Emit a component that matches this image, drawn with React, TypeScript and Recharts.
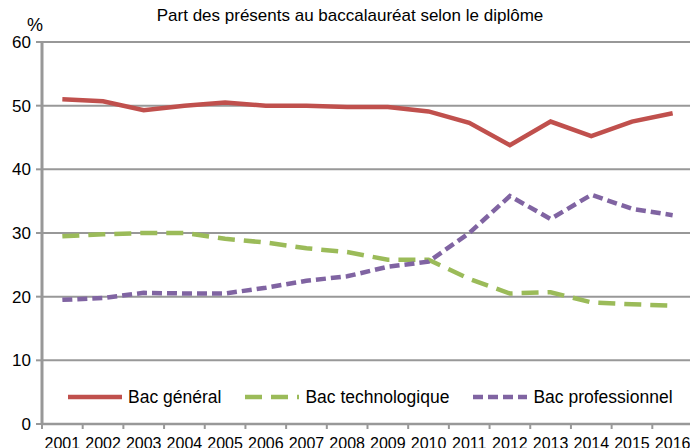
import { LineChart, Line, XAxis, YAxis, CartesianGrid } from "recharts"

const YEARS = ["2001", "2002", "2003", "2004", "2005", "2006", "2007", "2008", "2009", "2010", "2011", "2012", "2013", "2014", "2015", "2016"]
const BAC_GENERAL = [51.0, 50.7, 49.3, 50.0, 50.5, 50.0, 50.0, 49.8, 49.8, 49.1, 47.3, 43.8, 47.5, 45.2, 47.5, 48.8]
const BAC_TECHNO = [29.5, 29.8, 30.0, 30.0, 29.1, 28.5, 27.6, 27.0, 25.8, 25.8, 22.8, 20.5, 20.7, 19.1, 18.8, 18.6]
const BAC_PRO = [19.5, 19.8, 20.6, 20.5, 20.5, 21.4, 22.5, 23.2, 24.7, 25.5, 30.0, 35.8, 32.2, 36.0, 33.8, 32.8]
const Y_TICKS = [0, 10, 20, 30, 40, 50, 60]

const SERIES = [
  { key: "general", name: "Bac général", color: "#C0504D", dash: undefined as string | undefined },
  { key: "techno", name: "Bac technologique", color: "#9BBB59", dash: "17 9" },
  { key: "pro", name: "Bac professionnel", color: "#8064A2", dash: "10 5" },
]

const data = YEARS.map((year, i) => ({
  year,
  general: BAC_GENERAL[i],
  techno: BAC_TECHNO[i],
  pro: BAC_PRO[i],
}))

const CHART_W = 700
const CHART_H = 452
const MARGIN = { top: 42, right: 7, left: 0, bottom: 0 }
const Y_AXIS_W = 42
const BAND = (CHART_W - MARGIN.left - MARGIN.right - Y_AXIS_W) / YEARS.length
const GRID = "#989898"
const FONT = "'Liberation Sans', Arial, sans-serif"

// Excel-style x ticks: tick marks sit between categories
function XTick({ x, y, payload }: { x?: number; y?: number; payload?: { value: string } }) {
  if (x == null || y == null || !payload) return null
  const axisY = y - 14
  return (
    <g>
      <line x1={x - BAND / 2} x2={x - BAND / 2} y1={axisY} y2={axisY + 5} stroke={GRID} strokeWidth={2} />
      <text x={x} y={y} dy="0.71em" textAnchor="middle" fontSize={16} fill="#000" fontFamily={FONT}>
        {payload.value}
      </text>
    </g>
  )
}

export default function App() {
  return (
    <div style={{ position: "absolute", left: 0, top: 0, width: 690, height: 448, overflow: "hidden", background: "#fff", fontFamily: FONT }}>
      <div style={{ position: "absolute", top: 6, left: 0, width: CHART_W, textAlign: "center", fontSize: 17, color: "#000" }}>
        Part des présents au baccalauréat selon le diplôme
      </div>
      <div style={{ position: "absolute", top: 15, left: 27, fontSize: 18, color: "#000" }}>%</div>

      <LineChart width={CHART_W} height={CHART_H} data={data} margin={MARGIN}>
        <CartesianGrid vertical={false} stroke={GRID} strokeWidth={2} />
        <XAxis
          dataKey="year"
          scale="band"
          height={28}
          tickSize={5}
          tickMargin={9}
          tickLine={false}
          axisLine={{ stroke: GRID, strokeWidth: 2.5 }}
          tick={<XTick />}
          interval={0}
        />
        <YAxis
          width={Y_AXIS_W}
          domain={[0, 60]}
          ticks={Y_TICKS}
          tickSize={6}
          tickMargin={5}
          tickLine={{ stroke: GRID, strokeWidth: 2 }}
          axisLine={{ stroke: GRID, strokeWidth: 3 }}
          tick={{ fontSize: 17, fill: "#000", fontFamily: FONT }}
        />
        {SERIES.map(s => (
          <Line
            key={s.key}
            dataKey={s.key}
            name={s.name}
            type="linear"
            stroke={s.color}
            strokeWidth={4.5}
            strokeDasharray={s.dash}
            dot={false}
            activeDot={false}
            isAnimationActive={false}
          />
        ))}
      </LineChart>

      {/* legend inside the plot area */}
      <div style={{ position: "absolute", top: 386, left: 68, display: "flex", alignItems: "center", gap: 24 }}>
        {SERIES.map(s => (
          <div key={s.key} style={{ display: "flex", alignItems: "center", gap: 6 }}>
            <svg width={54} height={10}>
              <line x1={0} x2={54} y1={5} y2={5} stroke={s.color} strokeWidth={4.5} strokeDasharray={s.dash} />
            </svg>
            <span style={{ fontSize: 17.5, color: "#000", lineHeight: "22px" }}>{s.name}</span>
          </div>
        ))}
      </div>
    </div>
  )
}
